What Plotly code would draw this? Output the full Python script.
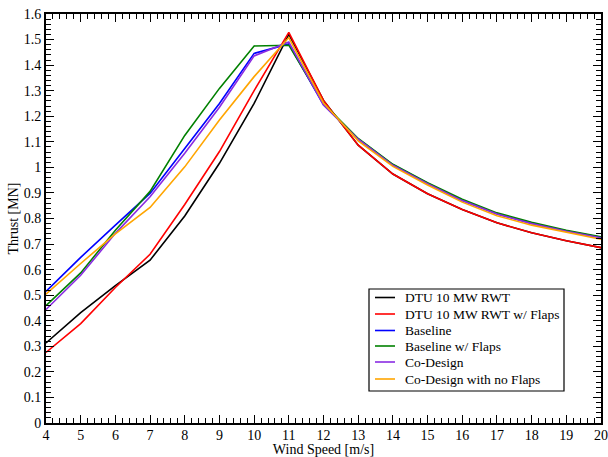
import plotly.graph_objects as go

# Wind speeds [m/s]
wind_speed = [4, 5, 6, 7, 8, 9, 10, 11, 12, 13, 14, 15, 16, 17, 18, 19, 20]

# Rotor thrust [MN] for each configuration
dtu_rwt = [0.313, 0.432, 0.537, 0.637, 0.810, 1.016, 1.250, 1.520, 1.262, 1.087,
           0.974, 0.897, 0.835, 0.783, 0.744, 0.713, 0.686]
dtu_rwt_flaps = [0.276, 0.389, 0.530, 0.660, 0.855, 1.062, 1.300, 1.528, 1.262, 1.087,
                 0.974, 0.897, 0.835, 0.783, 0.744, 0.713, 0.686]
baseline = [0.515, 0.648, 0.774, 0.898, 1.074, 1.250, 1.446, 1.483, 1.245, 1.110,
            1.010, 0.938, 0.870, 0.818, 0.781, 0.751, 0.726]
baseline_flaps = [0.459, 0.587, 0.754, 0.906, 1.125, 1.309, 1.475, 1.478, 1.250, 1.113,
                  1.012, 0.940, 0.875, 0.822, 0.785, 0.754, 0.728]
co_design = [0.444, 0.578, 0.742, 0.885, 1.055, 1.235, 1.436, 1.490, 1.244, 1.110,
             1.008, 0.936, 0.870, 0.818, 0.780, 0.750, 0.724]
co_design_no_flaps = [0.504, 0.624, 0.740, 0.843, 1.002, 1.185, 1.355, 1.508, 1.252, 1.104,
                      1.004, 0.931, 0.864, 0.811, 0.774, 0.745, 0.719]

names = ["DTU 10 MW RWT", "DTU 10 MW RWT w/ Flaps", "Baseline",
         "Baseline w/ Flaps", "Co-Design", "Co-Design with no Flaps"]
values = [dtu_rwt, dtu_rwt_flaps, baseline, baseline_flaps, co_design, co_design_no_flaps]
colors = ["#000000", "#ff0000", "#0000ff", "#008000", "#8a2be2", "#ffa500"]

FONT = "Liberation Serif, Times New Roman, serif"
W, H = 608, 457
ML, MR, MT, MB = 46, 7, 14, 34
PW, PH = W - ML - MR, H - MT - MB


def px_to_paper(px, py):
    """Convert page pixel coordinates to paper coordinates of the plot area."""
    return (px - ML) / PW, (H - MB - py) / PH


fig = go.Figure()
for name, vals, color in zip(names, values, colors):
    fig.add_trace(go.Scatter(
        x=wind_speed, y=vals, name=name, mode="lines",
        line=dict(color=color, width=1.6), showlegend=False,
    ))

axis_common = dict(
    showgrid=False, zeroline=False,
    showline=True, linecolor="black", linewidth=1.8,
    mirror="allticks", ticks="inside", ticklen=8, tickwidth=1.3, tickcolor="black",
    tickfont=dict(family=FONT, size=14, color="black"),
    automargin=False,
)

fig.update_xaxes(
    range=[4, 20], dtick=1, tick0=4,
    minor=dict(ticks="inside", ticklen=5, tickwidth=1, tickcolor="black", dtick=0.2),
    ticklabelstandoff=-2,
    title=dict(text="Wind Speed [m/s]", font=dict(family=FONT, size=14, color="black"),
               standoff=4),
    **axis_common,
)
fig.update_yaxes(
    range=[0, 1.6], dtick=0.1, tick0=0,
    minor=dict(ticks="inside", ticklen=5, tickwidth=1, tickcolor="black", dtick=0.02),
    title=dict(text="Thrust [MN]", font=dict(family=FONT, size=14, color="black"),
               standoff=2),
    **axis_common,
)

# Boxed legend with short line samples
shapes, annotations = [], []
bx0, by0 = px_to_paper(369, 289)
bx1, by1 = px_to_paper(564, 391)
shapes.append(dict(type="rect", xref="paper", yref="paper",
                   x0=bx0, x1=bx1, y0=by1, y1=by0,
                   line=dict(color="black", width=1.2), fillcolor="white", layer="above"))
row_y = [297.5, 314.0, 330.5, 346.0, 362.0, 379.0]
for name, color, ry in zip(names, colors, row_y):
    lx0, ly = px_to_paper(375, ry)
    lx1, _ = px_to_paper(395, ry)
    shapes.append(dict(type="line", xref="paper", yref="paper",
                       x0=lx0, x1=lx1, y0=ly, y1=ly,
                       line=dict(color=color, width=1.6), layer="above"))
    tx, ty = px_to_paper(403, ry)
    annotations.append(dict(text=name, xref="paper", yref="paper", x=tx, y=ty,
                            xanchor="left", yanchor="middle", showarrow=False,
                            font=dict(family=FONT, size=13.5, color="black")))

fig.update_layout(
    width=W, height=H,
    template="none",
    plot_bgcolor="white", paper_bgcolor="white",
    margin=dict(l=ML, r=MR, t=MT, b=MB),
    font=dict(family=FONT, size=14, color="black"),
    showlegend=False,
    shapes=shapes, annotations=annotations,
)

fig.write_html("out.html")
